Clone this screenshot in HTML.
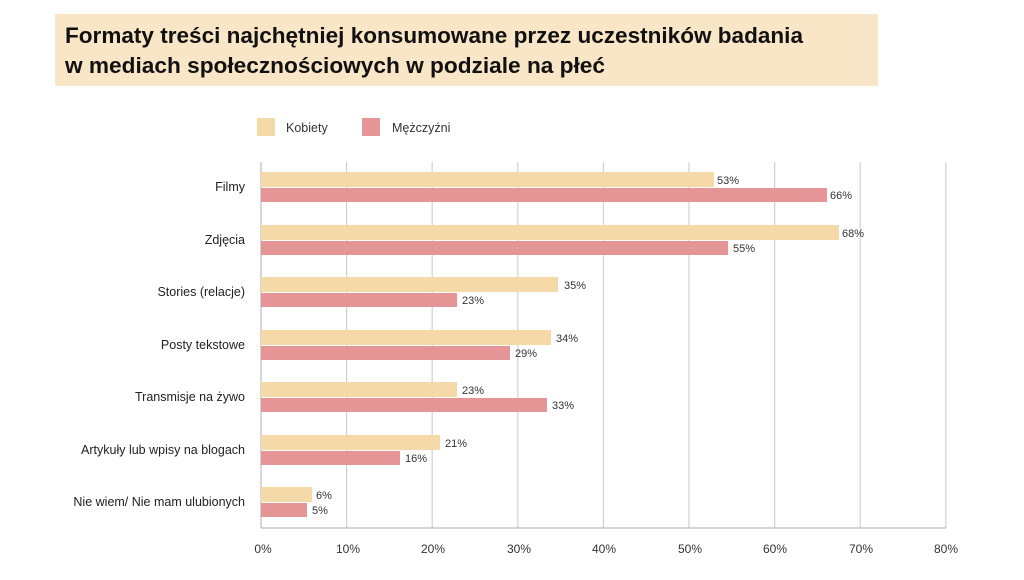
<!DOCTYPE html>
<html><head><meta charset="utf-8"><style>
body{margin:0;background:#fff;width:1024px;height:575px;overflow:hidden;font-family:"Liberation Sans",sans-serif;}
</style></head><body>
<svg width="1024" height="575" xmlns="http://www.w3.org/2000/svg" font-family="Liberation Sans, sans-serif">
<rect x="55" y="14" width="823" height="72" fill="#f9e6c6"/>
<text x="65" y="43" font-size="22" font-weight="bold" fill="#111" textLength="738" lengthAdjust="spacingAndGlyphs">Formaty treści najchętniej konsumowane przez uczestników badania</text>
<text x="65" y="73" font-size="22" font-weight="bold" fill="#111" textLength="540" lengthAdjust="spacingAndGlyphs">w mediach społecznościowych w podziale na płeć</text>
<rect x="257" y="118" width="18" height="18" fill="#f6d9a8"/>
<text x="286" y="132" font-size="12.5" fill="#333">Kobiety</text>
<rect x="362" y="118" width="18" height="18" fill="#e69597"/>
<text x="392" y="132" font-size="12.5" fill="#333">Mężczyźni</text>
<g stroke="#d0d0d0" stroke-width="1.2">
<line x1="346.6" y1="162" x2="346.6" y2="528"/><line x1="432.2" y1="162" x2="432.2" y2="528"/>
<line x1="517.8" y1="162" x2="517.8" y2="528"/><line x1="603.4" y1="162" x2="603.4" y2="528"/>
<line x1="689" y1="162" x2="689" y2="528"/><line x1="774.6" y1="162" x2="774.6" y2="528"/>
<line x1="860.2" y1="162" x2="860.2" y2="528"/><line x1="945.8" y1="162" x2="945.8" y2="528"/>
</g>
<line x1="261" y1="162" x2="261" y2="528" stroke="#bbb" stroke-width="1.2"/>
<line x1="261" y1="528" x2="946" y2="528" stroke="#bbb" stroke-width="1.2"/>
<g font-size="12" fill="#333" text-anchor="middle">
<text x="263" y="553">0%</text><text x="348" y="553">10%</text><text x="433" y="553">20%</text><text x="519" y="553">30%</text>
<text x="604" y="553">40%</text><text x="690" y="553">50%</text><text x="775" y="553">60%</text><text x="861" y="553">70%</text><text x="946" y="553">80%</text>
</g>
<g font-size="12.5" fill="#222" text-anchor="end">
<text x="245" y="191">Filmy</text>
<text x="245" y="244">Zdjęcia</text>
<text x="245" y="296">Stories (relacje)</text>
<text x="245" y="349">Posty tekstowe</text>
<text x="245" y="401">Transmisje na żywo</text>
<text x="245" y="454">Artykuły lub wpisy na blogach</text>
<text x="245" y="506">Nie wiem/ Nie mam ulubionych</text>
</g>
<g font-size="11" fill="#333">
<rect x="261" y="172" width="453" height="15" fill="#f6d9a8"/><text x="717" y="184">53%</text>
<rect x="261" y="188" width="566" height="14" fill="#e69597"/><text x="830" y="199">66%</text>
<rect x="261" y="225" width="578" height="15" fill="#f6d9a8"/><text x="842" y="237">68%</text>
<rect x="261" y="241" width="467" height="14" fill="#e69597"/><text x="733" y="252">55%</text>
<rect x="261" y="277" width="297" height="15" fill="#f6d9a8"/><text x="564" y="289">35%</text>
<rect x="261" y="293" width="196" height="14" fill="#e69597"/><text x="462" y="304">23%</text>
<rect x="261" y="330" width="290" height="15" fill="#f6d9a8"/><text x="556" y="342">34%</text>
<rect x="261" y="346" width="249" height="14" fill="#e69597"/><text x="515" y="357">29%</text>
<rect x="261" y="382" width="196" height="15" fill="#f6d9a8"/><text x="462" y="394">23%</text>
<rect x="261" y="398" width="286" height="14" fill="#e69597"/><text x="552" y="409">33%</text>
<rect x="261" y="435" width="179" height="15" fill="#f6d9a8"/><text x="445" y="447">21%</text>
<rect x="261" y="451" width="139" height="14" fill="#e69597"/><text x="405" y="462">16%</text>
<rect x="261" y="487" width="51" height="15" fill="#f6d9a8"/><text x="316" y="499">6%</text>
<rect x="261" y="503" width="46" height="14" fill="#e69597"/><text x="312" y="514">5%</text>
</g>
</svg>
</body></html>
